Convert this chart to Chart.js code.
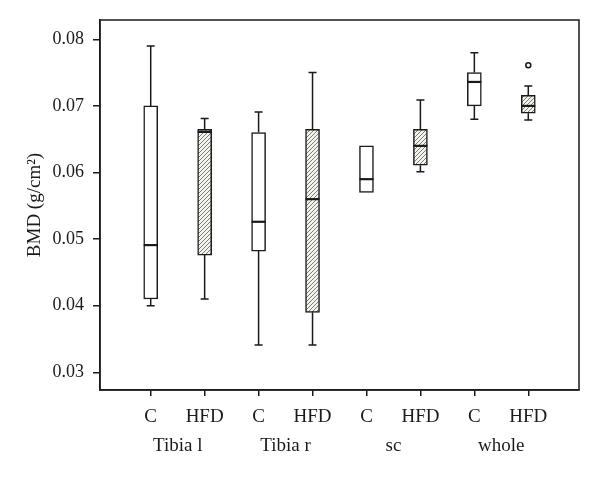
<!DOCTYPE html>
<html><head><meta charset="utf-8">
<script src="https://cdn.jsdelivr.net/npm/chart.js@4/dist/chart.umd.min.js"></script>
<style>html,body{margin:0;padding:0;background:#fff}#wrap{width:600px;height:478px}</style>
</head><body><div id="wrap"><canvas id="c" width="600" height="478"></canvas></div>
<script>
const groups = ['Tibia l','Tibia r','sc','whole'];
const treatments = ['C','HFD','C','HFD','C','HFD','C','HFD'];
const whiskerLow  = [0.0400,0.0410,0.0341,0.0341,0.0570,0.0601,0.0680,0.0679];
const q1          = [0.0410,0.0476,0.0482,0.0390,0.0570,0.0611,0.0700,0.0689];
const median      = [0.0491,0.0661,0.0526,0.0560,0.0590,0.0640,0.0736,0.0700];
const q3          = [0.0700,0.0665,0.0660,0.0665,0.0640,0.0665,0.0750,0.0716];
const whiskerHigh = [0.0790,0.0681,0.0691,0.0750,0.0640,0.0709,0.0780,0.0730];
const outlierX = [7];
const outlierY = [0.0761];
const yTicks = [0.03,0.04,0.05,0.06,0.07,0.08];

const INK = '#1a1a1a';
const SERIF = '"Liberation Serif", "DejaVu Serif", serif';
const FONT_Y = {family:SERIF, size:18};
const FONT_X = {family:SERIF, size:19};

function hatch(bg){
  const s = 4;
  const p = document.createElement('canvas'); p.width = s; p.height = s;
  const g = p.getContext('2d');
  g.fillStyle = bg; g.fillRect(0,0,s,s);
  g.strokeStyle = '#6e6e6e'; g.lineWidth = 0.9;
  g.beginPath();
  g.moveTo(0,s); g.lineTo(s,0);
  g.moveTo(-1,1); g.lineTo(1,-1);
  g.moveTo(s-1,s+1); g.lineTo(s+1,s-1);
  g.stroke();
  return g.createPattern(p,'repeat');
}
const hatchFill = hatch('#f2f4ec');
const fills = treatments.map(t => t === 'HFD' ? hatchFill : '#ffffff');

const boxData = treatments.map((t,i) => ({x:i, y:[q1[i], q3[i]]}));
const outData = outlierX.map((x,i) => ({x:x, y:outlierY[i]}));

const boxPlugin = {
  id:'boxExtras',
  afterDatasetsDraw(chart){
    const ctx = chart.ctx, xs = chart.scales.x, ys = chart.scales.y;
    const cap = 4;
    ctx.save();
    ctx.strokeStyle = INK;
    for (let i = 0; i < treatments.length; i++){
      const px = xs.getPixelForValue(i);
      ctx.lineWidth = 1.5;
      ctx.beginPath();
      if (whiskerHigh[i] > q3[i]){
        const a = ys.getPixelForValue(q3[i]), b = ys.getPixelForValue(whiskerHigh[i]);
        ctx.moveTo(px, a); ctx.lineTo(px, b);
        ctx.moveTo(px-cap, b); ctx.lineTo(px+cap, b);
      }
      if (whiskerLow[i] < q1[i]){
        const a = ys.getPixelForValue(q1[i]), b = ys.getPixelForValue(whiskerLow[i]);
        ctx.moveTo(px, a); ctx.lineTo(px, b);
        ctx.moveTo(px-cap, b); ctx.lineTo(px+cap, b);
      }
      ctx.stroke();
      ctx.lineWidth = 2.2;
      ctx.beginPath();
      const m = ys.getPixelForValue(median[i]);
      ctx.moveTo(px-7, m); ctx.lineTo(px+7, m);
      ctx.stroke();
    }
    const a = chart.chartArea;
    ctx.lineWidth = 1.5;
    ctx.strokeRect(a.left, a.top, a.right - a.left, a.bottom - a.top);
    ctx.restore();
  }
};

new Chart(document.getElementById('c'), {
  type:'bar',
  data:{
    datasets:[
      {type:'bar', data:boxData, backgroundColor:fills, borderColor:INK, borderWidth:1.5,
       borderSkipped:false, barThickness:14, grouped:false, order:2},
      {type:'scatter', data:outData, pointRadius:2.5, pointBorderWidth:1.5,
       pointBorderColor:INK, pointBackgroundColor:'#fff', order:1}
    ]
  },
  options:{
    responsive:false, animation:false,
    layout:{padding:{left:0, right:21, top:20, bottom:18}},
    plugins:{legend:{display:false}, tooltip:{enabled:false}},
    scales:{
      x:{type:'linear', position:'bottom', min:-0.94, max:7.94, offset:false, weight:0,
        afterBuildTicks(s){ s.ticks = treatments.map((t,i)=>({value:i})); },
        afterFit(s){ s.height = 34; },
        ticks:{callback:(v)=>treatments[v], color:INK, font:FONT_X, padding:10, maxRotation:0, autoSkip:false},
        grid:{offset:false, drawOnChartArea:false, drawTicks:true, tickLength:6, color:INK, lineWidth:1.5},
        border:{display:true, color:INK, width:1.5}
      },
      x2:{type:'linear', position:'bottom', min:-0.94, max:7.94, offset:false, weight:1,
        afterBuildTicks(s){ s.ticks = groups.map((g,i)=>({value:2*i+0.5})); },
        afterFit(s){ s.height = 36; },
        ticks:{callback:(v)=>groups[Math.round((v-0.5)/2)], color:INK, font:FONT_X, padding:3, maxRotation:0, autoSkip:false},
        grid:{display:false, offset:false},
        border:{display:false}
      },
      y:{type:'linear', min:0.02734, max:0.0829,
        afterBuildTicks(s){ s.ticks = yTicks.map(v=>({value:v})); },
        afterFit(s){ s.width = 100; },
        ticks:{callback:(v)=>v.toFixed(2), color:INK, font:FONT_Y, padding:9},
        grid:{drawOnChartArea:false, drawTicks:true, tickLength:7, color:INK, lineWidth:1.5},
        border:{display:true, color:INK, width:1.5},
        title:{display:true, text:'BMD (g/cm²)', color:INK, font:FONT_X, padding:{top:24, bottom:0}}
      }
    }
  },
  plugins:[boxPlugin]
});
</script>
</body></html>
